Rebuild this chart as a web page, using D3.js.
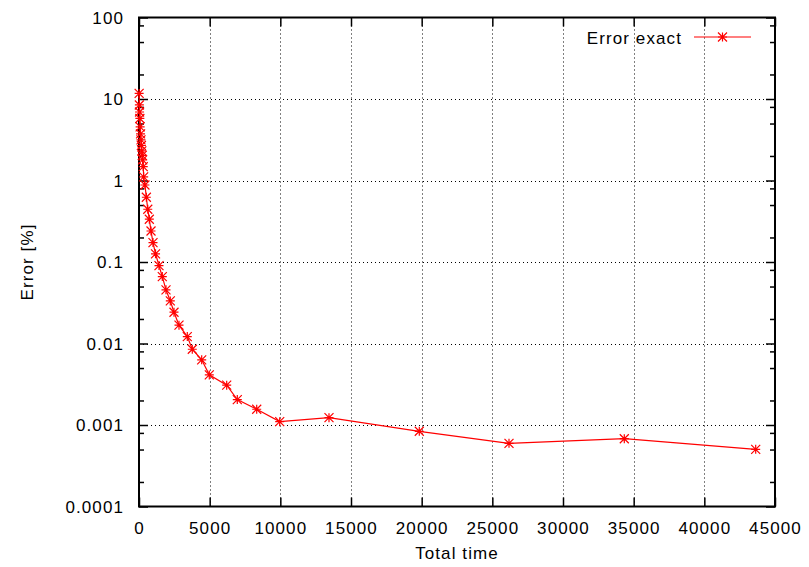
<!DOCTYPE html>
<html>
<head>
<meta charset="utf-8">
<script src="https://cdn.jsdelivr.net/npm/d3@7"></script>
<style>
  html, body { margin: 0; padding: 0; background: #fff; }
  svg { display: block; }
  text { font-family: "Liberation Sans", Arial, Helvetica, sans-serif; fill: #000; }
</style>
</head>
<body>
<svg id="chart" width="809" height="567"></svg>
<script>
// Total time samples and the matching exact error (percent)
const totalTime = [10, 25, 40, 60, 80, 110, 140, 170, 200, 230, 260, 300, 330,
  420, 520, 620, 730, 850, 990, 1170, 1415, 1649, 1910, 2215, 2476, 2830,
  3417, 3771, 4436, 4974, 6205, 6955, 8328, 9955, 13443, 19832, 26179, 34337, 43634];
const errorExact = [11.7, 8.45, 6.93, 5.77, 4.54, 3.73, 3.15, 2.69, 2.31, 2.03, 1.79, 1.48, 1.11,
  0.88, 0.623, 0.444, 0.335, 0.24, 0.173, 0.126, 0.0903, 0.0662, 0.0455, 0.0333, 0.0242, 0.0168,
  0.01216, 0.0085, 0.0063, 0.00412, 0.00308, 0.00205, 0.00156, 0.0011, 0.00123, 0.000837, 0.000596, 0.000679, 0.000503];

const xTicks = [0, 5000, 10000, 15000, 20000, 25000, 30000, 35000, 40000, 45000];
const yTicks = [0.0001, 0.001, 0.01, 0.1, 1, 10, 100];
const yTickLabels = ["0.0001", "0.001", "0.01", "0.1", "1", "10", "100"];
const seriesName = "Error exact";
const xTitle = "Total time";
const yTitle = "Error [%]";

const svg = d3.select("#chart");
const plotL = 139, plotR = 775, plotT = 17.5, plotB = 506.5;

const x = d3.scaleLinear().domain([0, 45000]).range([plotL, plotR]);
const y = d3.scaleLog().domain([0.0001, 100]).range([plotB, plotT]);

// minor ticks on the log axis at 2, 5 and 8 within each decade
const yMinor = [];
for (let e = -4; e < 2; e++) [2, 5, 8].forEach(m => yMinor.push(m * Math.pow(10, e)));

const fontSize = 17, spacing = 1.1;

// dotted grid
const grid = svg.append("g").attr("stroke", "#000").attr("stroke-width", 1)
  .attr("stroke-dasharray", "1,3");
xTicks.slice(1, -1).forEach(v => {
  grid.append("line").attr("x1", Math.round(x(v)) + 0.5).attr("x2", Math.round(x(v)) + 0.5)
    .attr("y1", plotT).attr("y2", plotB);
});
yTicks.slice(1, -1).forEach(v => {
  grid.append("line").attr("x1", plotL).attr("x2", plotR)
    .attr("y1", Math.round(y(v)) + 0.5).attr("y2", Math.round(y(v)) + 0.5);
});

// axes with mirrored ticks on all four sides
const axG = svg.append("g");
const bottomAxis = d3.axisBottom(x).tickValues(xTicks).tickSize(-9).tickFormat(d3.format("d"));
const topAxis = d3.axisTop(x).tickValues(xTicks).tickSize(-9).tickFormat("");
const leftAxis = d3.axisLeft(y).tickValues(yTicks).tickSize(-9)
  .tickFormat((d, i) => yTickLabels[i]);
const rightAxis = d3.axisRight(y).tickValues(yTicks).tickSize(-9).tickFormat("");
const leftMinor = d3.axisLeft(y).tickValues(yMinor).tickSize(-5).tickFormat("");
const rightMinor = d3.axisRight(y).tickValues(yMinor).tickSize(-5).tickFormat("");

function styleAxis(g) {
  g.select(".domain").remove();
  g.selectAll(".tick line").attr("stroke", "#000").attr("stroke-width", 1.5);
  g.selectAll(".tick text").attr("font-size", fontSize)
    .attr("letter-spacing", spacing)
    .attr("font-family", "Liberation Sans, Arial, sans-serif").attr("fill", "#000");
}
axG.append("g").attr("transform", `translate(0,${plotB})`).call(bottomAxis).call(styleAxis)
  .selectAll(".tick text").attr("dy", null).attr("y", 27);
axG.append("g").attr("transform", `translate(0,${plotT})`).call(topAxis).call(styleAxis);
axG.append("g").attr("transform", `translate(${plotL},0)`).call(leftAxis).call(styleAxis)
  .selectAll(".tick text").attr("x", -15).attr("dy", "0.35em");
axG.append("g").attr("transform", `translate(${plotR},0)`).call(rightAxis).call(styleAxis);
axG.append("g").attr("transform", `translate(${plotL},0)`).call(leftMinor).call(styleAxis);
axG.append("g").attr("transform", `translate(${plotR},0)`).call(rightMinor).call(styleAxis);

// plot border
svg.append("rect").attr("x", plotL).attr("y", plotT).attr("width", plotR - plotL)
  .attr("height", plotB - plotT).attr("fill", "none").attr("stroke", "#000").attr("stroke-width", 2);

// axis titles
svg.append("text").attr("x", (plotL + plotR) / 2).attr("y", 559).attr("text-anchor", "middle")
  .attr("font-size", fontSize).attr("letter-spacing", spacing).text(xTitle);
svg.append("text").attr("transform", `translate(33,${(plotT + plotB) / 2}) rotate(-90)`)
  .attr("text-anchor", "middle").attr("font-size", fontSize).attr("letter-spacing", spacing).text(yTitle);

// asterisk marker: plus and cross overlaid
function asterisk(g, cx, cy, r) {
  const p = `M${cx - r},${cy}H${cx + r}M${cx},${cy - r}V${cy + r}` +
    `M${cx - r},${cy - r}L${cx + r},${cy + r}M${cx - r},${cy + r}L${cx + r},${cy - r}`;
  g.append("path").attr("d", p);
}

const red = "#ff0000";
const line = d3.line().x(d => x(d[0])).y(d => y(d[1]));
const pts = totalTime.map((t, i) => [t, errorExact[i]]);
svg.append("path").datum(pts).attr("d", line).attr("fill", "none")
  .attr("stroke", red).attr("stroke-width", 1.2);
const mk = svg.append("g").attr("stroke", red).attr("stroke-width", 1.2).attr("fill", "none");
pts.forEach(d => asterisk(mk, x(d[0]), y(d[1]), 4.5));

// legend
svg.append("text").attr("x", 682).attr("y", 43.5).attr("text-anchor", "end")
  .attr("font-size", fontSize).attr("letter-spacing", spacing).text(seriesName);
svg.append("line").attr("x1", 694).attr("x2", 751).attr("y1", 37).attr("y2", 37)
  .attr("stroke", red).attr("stroke-width", 1.2);
asterisk(mk, 722.5, 37, 4.5);
</script>
</body>
</html>
